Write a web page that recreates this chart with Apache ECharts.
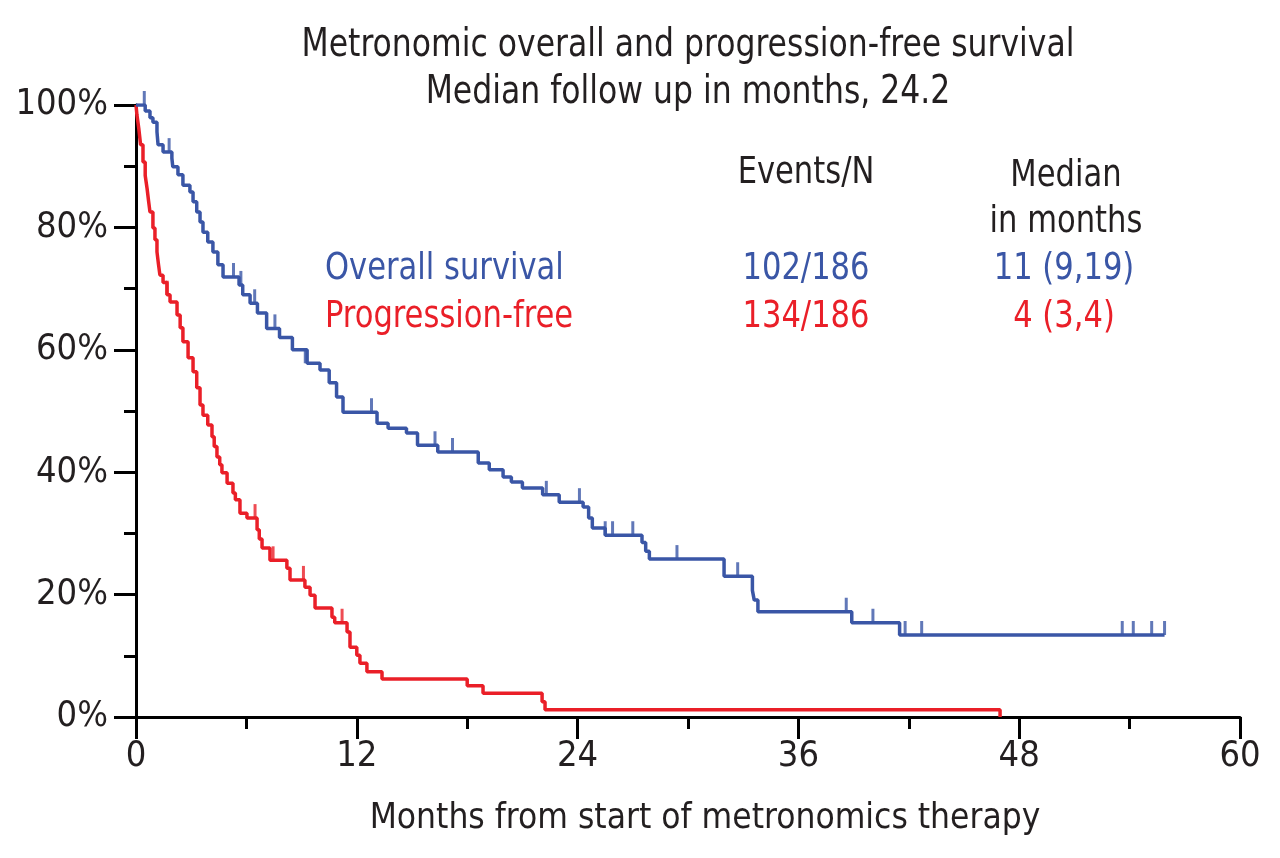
<!DOCTYPE html>
<html>
<head>
<meta charset="utf-8">
<script src="https://cdn.jsdelivr.net/npm/echarts@6/dist/echarts.min.js"></script>
<style>html,body{margin:0;padding:0;background:#fff}#c{width:1280px;height:858px}</style>
</head>
<body>
<div id="c"></div>
<script>
// Overall survival: [month, survival %] at each event (step drops)
const osSteps = [
  [0,100],[0.5,99],[0.76,97.9],[0.92,97.2],[1.14,95.6],[1.2,93.5],[1.47,92.3],[1.95,91.3],[2.0,89.9],
  [2.28,88.6],[2.55,86.9],[2.93,85.8],[3.1,84.2],[3.3,82.5],[3.48,80.9],[3.64,79.2],[3.9,77.6],[4.18,76],
  [4.45,73.9],[4.73,71.9],[5.6,70.6],[5.8,69],[6.2,67.6],
  [6.6,66],[7.1,63.5],[7.8,62],[8.5,60],[9.3,57.8],[10.0,56.7],[10.5,54.6],[10.9,52.3],[11.25,49.8],
  [13.1,48],[13.7,47.2],[14.7,46.4],[15.3,44.4],[16.4,43.3],[18.6,41.5],[19.2,40.4],[19.95,39.2],
  [20.4,38.4],[21.0,37.4],[22.1,36.3],[23.0,35.1],[24.3,34.3],[24.6,32.5],[24.8,30.9],[25.5,29.7],
  [27.5,28.5],[27.7,27.1],[27.9,25.8],[31.96,23],[33.5,20.7],[33.6,19.1],[33.8,17.2],[38.9,15.4],
  [41.5,13.4],[55.9,13.4]
];
// Overall survival censored observations
const osCensor = [
  [0.45,100],[1.8,92.3],[5.3,71.9],[5.7,70.6],[6.45,67.6],[7.55,63.5],[9.2,57.8],[12.8,49.8],[16.25,44.4],[17.2,43.3],
  [22.3,36.3],[24.1,35.1],[25.5,29.7],[25.9,29.7],[27.0,29.7],[29.4,25.8],[32.7,23],[38.6,17.2],
  [40.05,15.4],[41.8,13.4],[42.7,13.4],[53.6,13.4],[54.2,13.4],[55.2,13.4],[55.9,13.4]
];
// Progression-free survival: [month, survival %]
const pfsSteps = [
  [0,100],[0.05,98.4],[0.15,96.2],[0.25,93.5],[0.38,90.7],[0.5,88.5],[0.6,86.4],[0.68,84.4],[0.76,82.5],
  [0.92,79.9],[1.03,78],[1.14,76],[1.22,74],[1.3,72.2],[1.47,71],[1.68,69],
  [1.85,67.8],[2.23,65.7],[2.4,63.6],[2.55,61.3],[2.83,58.7],[3.1,56.4],[3.3,53.8],[3.48,51],[3.64,49.3],
  [3.9,47.7],[4.13,45.8],[4.25,44.2],[4.4,42.5],[4.55,41.2],[4.67,39.9],[4.95,38.2],[5.27,36.6],[5.4,35.5],[5.65,33.3],[6.03,32.5],
  [6.58,30.6],[6.7,29.1],[6.85,27.6],[7.28,25.6],[8.2,24.3],[8.37,22.4],[9.18,21.2],[9.46,19.9],[9.73,17.8],
  [10.65,16.3],[10.8,15.4],[11.47,13.9],[11.63,11.4],[12.0,10.1],[12.17,8.8],[12.55,7.4],[13.37,6.2],
  [18.0,5.1],[18.86,3.9],[22.07,2.5],[22.23,1.2],[46.96,0]
];
// Progression-free censored observations
const pfsCensor = [[1.7,69],[6.47,32.5],[7.45,25.6],[9.1,22.4],[11.2,15.4]];

const xTicks = [0, 12, 24, 36, 48, 60];
const yTicks = [0, 20, 40, 60, 80, 100];

const titleLines = ['Metronomic overall and progression-free survival', 'Median follow up in months, 24.2'];
const tableHeader = ['Events/N', 'Median\nin months'];
const tableRows = [
  {name: 'Overall survival', events: '102/186', median: '11 (9,19)', color: '#3a56a6'},
  {name: 'Progression-free', events: '134/186', median: '4 (3,4)', color: '#ea1f28'}
];

const FONT = '"DejaVu Sans Condensed", "Liberation Sans Narrow", sans-serif';
const TXT = '#231f20';
const BLUE = tableRows[0].color, RED = tableRows[1].color;

const chart = echarts.init(document.getElementById('c'), null, {renderer: 'canvas'});

const tick = {symbol: 'rect', symbolSize: [3, 14], symbolOffset: [0, -7]};

const SY = 1.1;
const graphics = [];
titleLines.forEach((t, i) => graphics.push({type: 'text', x: 688, y: 27 + i * 47, scaleY: SY,
  style: {text: t, font: '35px ' + FONT, fill: TXT, textAlign: 'center'}}));
graphics.push({type: 'text', x: 806, y: 155, scaleY: SY, style: {text: tableHeader[0], font: '34px ' + FONT, fill: TXT, textAlign: 'center'}});
graphics.push({type: 'text', x: 1066, y: 153, scaleY: SY, style: {text: tableHeader[1], font: '34px ' + FONT, fill: TXT, textAlign: 'center', lineHeight: 42}});
tableRows.forEach((r, i) => {
  const y = 251 + i * 48;
  graphics.push({type: 'text', x: 325, y: y, scaleY: SY, style: {text: r.name, font: '34px ' + FONT, fill: r.color, textAlign: 'left'}});
  graphics.push({type: 'text', x: 806, y: y, scaleY: SY, style: {text: r.events, font: '34px ' + FONT, fill: r.color, textAlign: 'center'}});
  graphics.push({type: 'text', x: 1064, y: y, scaleY: SY, style: {text: r.median, font: '34px ' + FONT, fill: r.color, textAlign: 'center'}});
});

chart.setOption({
  animation: false,
  backgroundColor: '#fff',
  grid: {left: 136, right: 40, top: 105, bottom: 141, containLabel: false},
  xAxis: {
    type: 'value', min: xTicks[0], max: xTicks[xTicks.length - 1], interval: 12,
    name: 'Months from start of metronomics therapy', nameLocation: 'middle', nameGap: 84,
    nameTextStyle: {fontFamily: FONT, fontSize: 35, color: TXT, padding: [0, 0, 0, 34]},
    axisLine: {lineStyle: {color: '#000', width: 3}},
    axisTick: {show: true, inside: false, length: 22, lineStyle: {color: '#000', width: 3}},
    minorTick: {show: true, splitNumber: 2, length: 12, lineStyle: {color: '#000', width: 3}},
    axisLabel: {fontFamily: FONT, fontSize: 36, color: TXT, margin: 22},
    splitLine: {show: false}
  },
  yAxis: {
    type: 'value', min: yTicks[0], max: yTicks[yTicks.length - 1], interval: 20,
    axisLine: {show: true, lineStyle: {color: '#000', width: 3}},
    axisTick: {show: true, inside: false, length: 22, lineStyle: {color: '#000', width: 3}},
    minorTick: {show: true, splitNumber: 2, length: 12, lineStyle: {color: '#000', width: 3}},
    axisLabel: {fontFamily: FONT, fontSize: 36, color: TXT, margin: 28, formatter: '{value}%'},
    splitLine: {show: false}
  },
  graphic: graphics,
  series: [
    {type: 'line', step: 'end', data: pfsSteps, showSymbol: false, lineStyle: {color: RED, width: 3.5}, z: 3},
    {type: 'scatter', data: pfsCensor, ...tick, itemStyle: {color: RED}, z: 3},
    {type: 'line', step: 'end', data: osSteps, showSymbol: false, lineStyle: {color: BLUE, width: 3.5}, z: 4},
    {type: 'scatter', data: osCensor, ...tick, itemStyle: {color: BLUE}, z: 4}
  ]
});
</script>
</body>
</html>
